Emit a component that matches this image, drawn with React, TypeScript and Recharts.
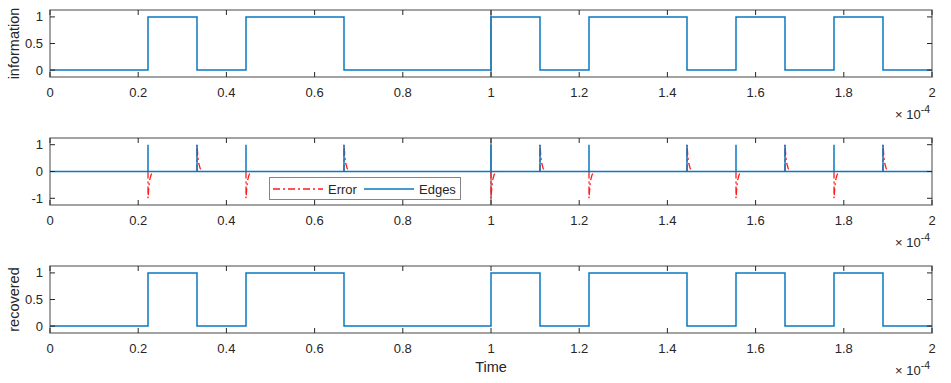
import { LineChart, Line, XAxis, YAxis, ReferenceArea, ReferenceLine, Legend } from "recharts";

// time is in units of 1e-4 s (the axis shows "x10^-4")
const infoBits = [0, 0, 1, 0, 1, 1, 0, 0, 0, 1, 0, 1, 1, 0, 1, 0, 1, 0];
const recoveredBits = [0, 0, 1, 0, 1, 1, 0, 0, 0, 1, 0, 1, 1, 0, 1, 0, 1, 0];
const bitPeriod = 2 / 18;
const tEnd = 2;

// error transient after each edge (offset in 1e-4 s, magnitude)
const errorOffsets = [0, 0.002, 0.004, 0.007, 0.01, 0.014];
const errorLevels = [1, 0.55, 0.3, 0.12, 0.04, 0];

const xTicks = [0, 0.2, 0.4, 0.6, 0.8, 1, 1.2, 1.4, 1.6, 1.8, 2];
const levelTicks = [0, 0.5, 1];
const edgeTicks = [-1, 0, 1];
const legendOrder = ["Error", "Edges"];

const BLUE = "#0a78c2";
const RED = "#ff1a1a";
const AXIS = "#262626";
const BOX = "#858585";
const FONT = "'Liberation Sans', Arial, sans-serif";
const PLOT_W = 882;
const PLOT_H = 67;

type Pt = { t: number; v: number | null };

const stepData = (bits: number[]): Pt[] => [
  ...bits.map((b, i) => ({ t: i * bitPeriod, v: b })),
  { t: tEnd, v: bits[bits.length - 1] },
];

const edges = infoBits.flatMap((b, i) =>
  i > 0 && b !== infoBits[i - 1] ? [{ t: i * bitPeriod, rising: b === 1 }] : []
);

const edgeData: Pt[] = [
  { t: 0, v: 0 },
  ...edges.flatMap((e) => [
    { t: e.t, v: 0 },
    { t: e.t, v: 1 },
    { t: e.t, v: 0 },
  ]),
  { t: tEnd, v: 0 },
];

// only the transients are drawn; nulls break the line between edges
const errorData: Pt[] = edges.flatMap((e) => [
  { t: e.t, v: null },
  { t: e.t, v: 0 },
  ...errorOffsets.map((o, k) => ({ t: e.t + o, v: (e.rising ? -1 : 1) * errorLevels[k] })),
  { t: e.t + 0.015, v: null },
]);

const fmtX = (v: number) => String(Number(v.toFixed(1)));

const XTick = (p: any) => {
  const { x, y, payload } = p;
  return (
    <g>
      <line x1={x} y1={y} x2={x} y2={y - 5} stroke={AXIS} />
      <line x1={x} y1={y - PLOT_H} x2={x} y2={y - PLOT_H + 5} stroke={AXIS} />
      <text x={x} y={y + 19.5} textAnchor="middle" fontSize={13} fill={AXIS} fontFamily={FONT}>
        {fmtX(payload.value)}
      </text>
    </g>
  );
};

const YTick = (p: any) => {
  const { x, y, payload } = p;
  return (
    <g>
      <line x1={x} y1={y} x2={x + 5} y2={y} stroke={AXIS} />
      <line x1={x + PLOT_W - 5} y1={y} x2={x + PLOT_W} y2={y} stroke={AXIS} />
      <text x={x - 7} y={y + 4.5} textAnchor="end" fontSize={13} fill={AXIS} fontFamily={FONT}>
        {payload.value}
      </text>
    </g>
  );
};

const yLabel = (text: string) => (p: any) => {
  const vb = p.viewBox;
  const cy = vb.y + vb.height / 2;
  return (
    <text
      x={18.5}
      y={cy}
      transform={`rotate(-90, 18.5, ${cy})`}
      textAnchor="middle"
      fontSize={14.5}
      fill={AXIS}
      fontFamily={FONT}
    >
      {text}
    </text>
  );
};

const xLabel = (withTime: boolean) => (p: any) => {
  const vb = p.viewBox;
  return (
    <g fontFamily={FONT} fill={AXIS}>
      <text x={vb.x + vb.width - 2} y={vb.y + 42} textAnchor="end" fontSize={13}>
        {"\u00d7 10"}
        <tspan dy={-6} fontSize={10.5}>
          -4
        </tspan>
      </text>
      {withTime && (
        <text x={vb.x + vb.width / 2} y={vb.y + 39} textAnchor="middle" fontSize={14.5}>
          Time
        </text>
      )}
    </g>
  );
};

const renderLegend = (props: any) => {
  const items = [...(props.payload || [])].sort(
    (a: any, b: any) => legendOrder.indexOf(a.value) - legendOrder.indexOf(b.value)
  );
  const itemX = [4, 95];
  return (
    <svg width={192} height={23} style={{ display: "block" }}>
      <rect x={0.5} y={0.5} width={191} height={22} fill="#fff" stroke={BOX} />
      {items.map((e: any, i: number) => (
        <g key={e.value}>
          <line
            x1={itemX[i]}
            x2={itemX[i] + 50}
            y1={12}
            y2={12}
            stroke={e.color}
            strokeWidth={1.5}
            strokeDasharray={e.payload?.strokeDasharray}
          />
          <text x={itemX[i] + 55} y={16.5} fontSize={13} fill={AXIS} fontFamily={FONT}>
            {e.value}
          </text>
        </g>
      ))}
    </svg>
  );
};

function Panel(props: {
  top: number;
  height: number;
  marginTop: number;
  domain: [number, number];
  yTicks: number[];
  label: string;
  withTime?: boolean;
  divider?: boolean;
  children: React.ReactNode;
  extra?: React.ReactNode;
}) {
  const { top, height, marginTop, domain, yTicks, label, withTime, divider, children, extra } = props;
  return (
    <div style={{ position: "absolute", left: 0, top }}>
      <LineChart width={951} height={height} margin={{ top: marginTop, right: 19, bottom: 0, left: 0 }}>
        <XAxis
          dataKey="t"
          type="number"
          domain={[0, tEnd]}
          ticks={xTicks}
          interval={0}
          height={50}
          axisLine={false}
          tickLine={false}
          tickSize={0}
          tickMargin={0}
          tick={XTick}
          label={xLabel(!!withTime)}
          allowDuplicatedCategory={false}
        />
        <YAxis
          type="number"
          domain={domain}
          ticks={yTicks}
          interval={0}
          width={50}
          axisLine={false}
          tickLine={false}
          tickSize={0}
          tickMargin={0}
          tick={YTick}
          label={yLabel(label)}
        />
        <ReferenceArea
          x1={0}
          x2={tEnd}
          y1={domain[0]}
          y2={domain[1]}
          fill="none"
          stroke={BOX}
          strokeWidth={1.5}
        />
        {divider && <ReferenceLine x={1} stroke={BOX} strokeWidth={1.5} />}
        {children}
        {extra}
      </LineChart>
    </div>
  );
}

export default function App() {
  return (
    <div
      style={{ position: "absolute", left: 0, top: 0, width: 951, height: 383, background: "#fff", fontFamily: FONT }}
    >
      <Panel top={0} height={127} marginTop={10} domain={[-0.13, 1.13]} yTicks={levelTicks} label="information" divider>
        <Line
          data={stepData(infoBits)}
          dataKey="v"
          type="stepAfter"
          stroke={BLUE}
          strokeWidth={1.5}
          dot={false}
          isAnimationActive={false}
        />
      </Panel>
      <Panel
        top={127}
        height={128}
        marginTop={11}
        domain={[-1.25, 1.25]}
        yTicks={edgeTicks}
        label=""
        divider
        extra={
          <Legend
            layout="horizontal"
            verticalAlign="middle"
            align="center"
            wrapperStyle={{ left: 269, top: 50, width: 192, height: 23 }}
            content={renderLegend}
          />
        }
      >
        <Line
          data={errorData}
          dataKey="v"
          name="Error"
          type="linear"
          stroke={RED}
          strokeWidth={1.3}
          strokeDasharray="7 3 2 3"
          dot={false}
          isAnimationActive={false}
        />
        <Line
          data={edgeData}
          dataKey="v"
          name="Edges"
          type="linear"
          stroke={BLUE}
          strokeWidth={1.5}
          dot={false}
          isAnimationActive={false}
        />
      </Panel>
      <Panel top={255} height={128} marginTop={11} domain={[-0.13, 1.13]} yTicks={levelTicks} label="recovered" withTime>
        <Line
          data={stepData(recoveredBits)}
          dataKey="v"
          type="stepAfter"
          stroke={BLUE}
          strokeWidth={1.5}
          dot={false}
          isAnimationActive={false}
        />
      </Panel>
    </div>
  );
}
